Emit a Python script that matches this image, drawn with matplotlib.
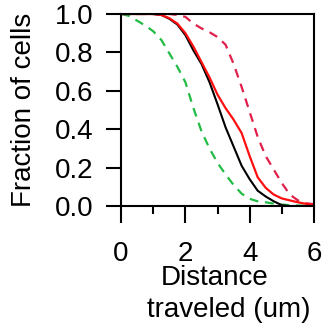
import matplotlib
matplotlib.use("Agg")
import matplotlib.pyplot as plt
from matplotlib.ticker import MultipleLocator

plt.rcParams['font.family'] = ['Liberation Sans', 'DejaVu Sans']

# distance traveled (um)
dist = [0, 0.25, 0.5, 0.75, 1, 1.25, 1.5, 1.75, 2, 2.25, 2.5, 2.75, 3,
        3.25, 3.5, 3.75, 4, 4.25, 4.5, 4.75, 5, 5.25, 5.5, 5.75, 6]

black_solid = [1.0, 1.0, 1.0, 1.0, 1.0, 0.995, 0.975, 0.945, 0.89, 0.81, 0.74, 0.645, 0.53,
               0.41, 0.31, 0.21, 0.14, 0.08, 0.05, 0.025, 0.005, 0.0, 0.0, 0.0, 0.0]
red_solid = [1.0, 1.0, 1.0, 1.0, 1.0, 0.995, 0.978, 0.95, 0.90, 0.83, 0.75, 0.67, 0.58,
             0.51, 0.45, 0.38, 0.26, 0.15, 0.095, 0.06, 0.04, 0.03, 0.02, 0.012, 0.005]
red_dashed = [1.0, 1.0, 1.0, 1.0, 1.0, 1.0, 1.0, 0.995, 0.985, 0.95, 0.925, 0.905, 0.88,
              0.84, 0.74, 0.62, 0.49, 0.36, 0.26, 0.19, 0.12, 0.06, 0.03, 0.015, 0.01]
green_dashed = [1.0, 0.99, 0.965, 0.94, 0.91, 0.865, 0.795, 0.725, 0.645, 0.51, 0.39, 0.30, 0.225,
                0.165, 0.11, 0.065, 0.038, 0.025, 0.02, 0.013, 0.008, 0.005, 0.003, 0.002, 0.0]

fig = plt.figure(figsize=(3.23, 3.33), dpi=100)
ax = fig.add_axes([0.375, 0.381, 0.597, 0.577])

ax.plot(dist, green_dashed, color='#22bb44', lw=1.6, ls=(0, (4, 3)))
ax.plot(dist, red_dashed, color='#e0204a', lw=1.6, ls=(0, (4, 3)))
ax.plot(dist, black_solid, color='black', lw=1.5)
ax.plot(dist, red_solid, color='#ff1010', lw=1.6)

ax.set_xlim(0, 6)
ax.set_ylim(0, 1.0)
ax.xaxis.set_major_locator(MultipleLocator(2))
ax.xaxis.set_minor_locator(MultipleLocator(1))
ax.set_yticks([0, 0.2, 0.4, 0.6, 0.8, 1.0])
ax.set_yticklabels(['0.0', '0.2', '0.4', '0.6', '0.8', '1.0'])

for s in ax.spines.values():
    s.set_linewidth(1.5)
ax.tick_params(axis='both', which='major', direction='out', width=1.5, labelsize=20)
ax.tick_params(axis='x', which='major', length=12, pad=13)
ax.tick_params(axis='x', which='minor', length=6, width=1.5)
ax.tick_params(axis='y', which='major', length=11, pad=9)

ax.set_ylabel('Fraction of cells', fontsize=20, labelpad=13)
fig.text(215 / 323, 1 - 278 / 333, 'Distance', fontsize=20, ha='center', va='center')
fig.text(229 / 323, 1 - 310 / 333, 'traveled (um)', fontsize=20, ha='center', va='center')

fig.savefig('out.png', dpi=100)
